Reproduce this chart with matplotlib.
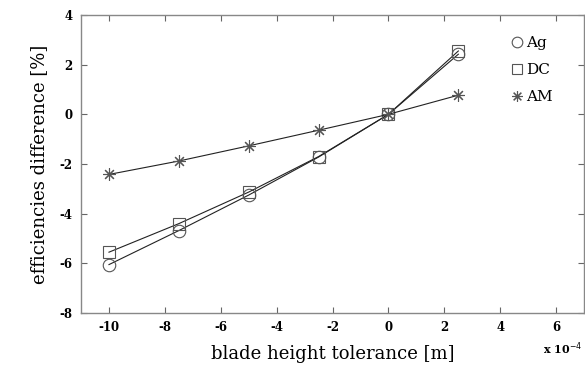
import numpy as np
import matplotlib
matplotlib.use('Agg')
import matplotlib.pyplot as plt

# blade height tolerance, in units of 1e-4 m
tolerance = [-10, -7.5, -5, -2.5, 0, 2.5]
ag = [-6.05, -4.68, -3.25, -1.72, 0, 2.42]
dc = [-5.55, -4.4, -3.13, -1.7, 0, 2.55]
am = [-2.42, -1.88, -1.27, -0.64, 0, 0.77]

x_ticks = [-10, -8, -6, -4, -2, 0, 2, 4, 6]
y_ticks = [-8, -6, -4, -2, 0, 2, 4]

plt.rcParams['font.family'] = ['DejaVu Serif']
plt.rcParams['axes.unicode_minus'] = False

fig = plt.figure(figsize=(5.85, 3.74), dpi=100)
ax = fig.add_axes([0.1385, 0.163, 0.86, 0.797])

edge = '#555555'
ax.plot(tolerance, ag, color='#222222', lw=0.8, marker='o', ms=9,
        mfc='none', mec=edge, mew=0.8, label='Ag')
ax.plot(tolerance, dc, color='#222222', lw=0.8, marker='s', ms=8,
        mfc='none', mec=edge, mew=0.8, label='DC')
ax.plot(tolerance, am, color='#222222', lw=0.8, marker=(8, 2, 0), ms=9,
        mfc='none', mec=edge, mew=0.8, label='AM')

ax.set_xlim(-11, 7)
ax.set_ylim(-8, 4)
ax.set_xticks(x_ticks)
ax.set_yticks(y_ticks)
ax.tick_params(direction='in', top=True, right=True, length=4, width=0.8,
               color='#666666', labelsize=8.5, pad=6)
for lab in ax.get_xticklabels() + ax.get_yticklabels():
    lab.set_fontweight('bold')
for s in ax.spines.values():
    s.set_color('#888888')
    s.set_linewidth(1.0)

ax.set_xlabel('blade height tolerance [m]', fontsize=13, labelpad=8)
ax.set_ylabel('efficiencies difference [%]', fontsize=13, labelpad=8)
fig.text(0.928, 0.055, r'x 10$^{-4}$', fontsize=8, fontweight='bold')

leg = ax.legend(loc='upper right', bbox_to_anchor=(0.955, 0.96), frameon=False,
                fontsize=11, handlelength=0, handletextpad=0.6,
                labelspacing=0.85, borderaxespad=0.2, markerscale=0.85)
for line in leg.get_lines():
    line.set_linestyle('none')

fig.savefig('out.png', dpi=100)
